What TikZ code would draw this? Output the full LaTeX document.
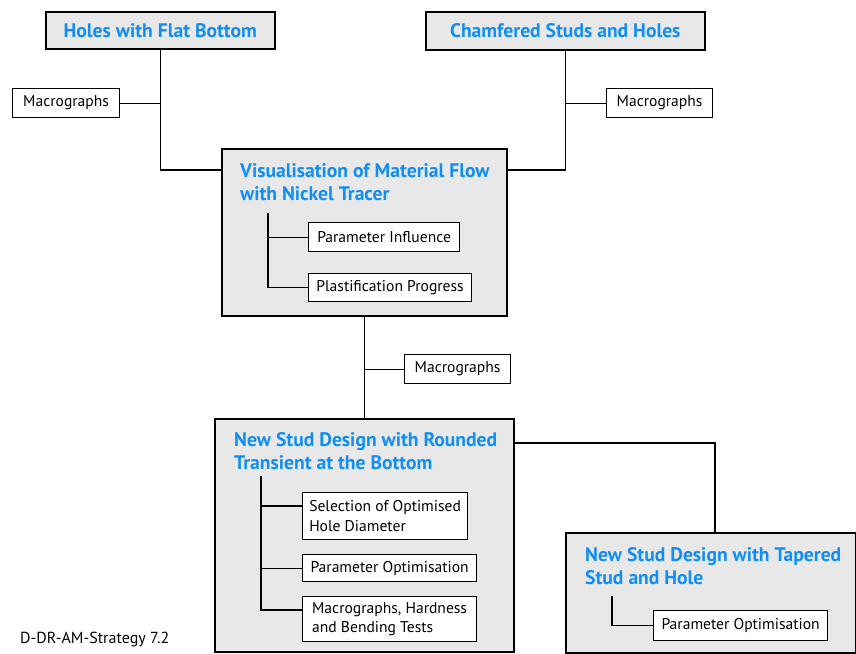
\documentclass[tikz,border=0pt]{standalone}
\usepackage{fontspec}
\setmainfont{PT Sans}
\usetikzlibrary{positioning}

\definecolor{titleblue}{RGB}{16,142,245}
\definecolor{boxgrey}{RGB}{232,232,232}

\tikzset{
  stage/.style={draw=black, line width=1.6pt, fill=boxgrey, anchor=north west, inner sep=0pt,
    text=titleblue, font=\fontsize{19.6}{23}\selectfont\bfseries},
  stagetitle/.style={anchor=north west, inner sep=0pt, align=left, text=titleblue,
    font=\fontsize{19.6}{23}\selectfont\bfseries},
  task/.style={draw=black, line width=1.2pt, fill=white, anchor=north west, inner sep=0pt,
    align=left, font=\fontsize{15.6}{19.5}\selectfont},
  link/.style={line width=1.2pt}
}

\begin{document}
\begin{tikzpicture}[x=1pt,y=-1pt]
\useasboundingbox[fill=white] (0,0) rectangle (856,653);

% top row
\node[stage, minimum width=229pt, minimum height=37pt] (A) at (45,11) {Holes with Flat Bottom};
\node[stage, minimum width=279pt, minimum height=38pt] (B) at (425,11) {Chamfered Studs and Holes};
\node[task, minimum width=107pt, minimum height=29pt] (mL) at (12,88) {Macrographs};
\node[task, minimum width=106pt, minimum height=29pt] (mR) at (606,88) {Macrographs};

% material flow
\node[stage, minimum width=285pt, minimum height=167pt] (C) at (221,148) {};
\node[stagetitle] (tC) at (240,163) {Visualisation of Material Flow\\with Nickel Tracer};
\node[task, minimum width=151pt, minimum height=29pt] (PI) at (308,222) {Parameter Influence};
\node[task, minimum width=163pt, minimum height=28pt] (PP) at (308,273) {Plastification Progress};
\coordinate (cTrunk) at (268,213);

\node[task, minimum width=106pt, minimum height=29pt] (mM) at (404,354) {Macrographs};

% rounded transient
\node[stage, minimum width=299pt, minimum height=233pt] (D) at (214,418) {};
\node[stagetitle] (tD) at (234,432) {New Stud Design with Rounded\\Transient at the Bottom};
\node[task, minimum width=165pt, minimum height=47pt] (Sel) at (302,492) {Selection of Optimised\\Hole Diameter};
\node[task, minimum width=174pt, minimum height=27pt] (PO1) at (302,554) {Parameter Optimisation};
\node[task, minimum width=174pt, minimum height=45pt] (MH) at (302,596) {Macrographs, Hardness\\and Bending Tests};
\coordinate (dTrunk) at (261,476);

% tapered stud
\node[stage, minimum width=290pt, minimum height=120pt] (E) at (565,532) {};
\node[stagetitle] (tE) at (585,547) {New Stud Design with Tapered\\Stud and Hole};
\node[task, minimum width=174pt, minimum height=30pt] (PO2) at (653,610) {Parameter Optimisation};
\coordinate (eTrunk) at (612,596);

\node[anchor=west, inner sep=0pt, font=\fontsize{16}{19}\selectfont] (tag) at (20,639) {D-DR-AM-Strategy 7.2};

% connections
\draw[link] (A.south) |- ([yshift=-22pt]C.north west);
\draw[link] (mL.east) -- (mL.east -| A.south);
\draw[link] (B.south) |- ([yshift=-22pt]C.north east);
\draw[link] (mR.west) -- (mR.west -| B.south);
\draw[link] (C.south) -- (D.north);
\draw[link] (mM.west) -- (mM.west -| C.south);
\draw[link] ([yshift=-25pt]D.north east) -| ([xshift=150pt]E.north west);

\draw[link] (cTrunk) |- (PP.west);
\draw[link] (PI.west) -- (PI.west -| cTrunk);
\draw[link] (dTrunk) |- ([yshift=-14pt]MH.north west);
\draw[link] ([yshift=-14pt]Sel.north west) -- ([yshift=-14pt]Sel.north west -| dTrunk);
\draw[link] (PO1.west) -- (PO1.west -| dTrunk);
\draw[link] (eTrunk) |- (PO2.west);
\end{tikzpicture}
\end{document}
